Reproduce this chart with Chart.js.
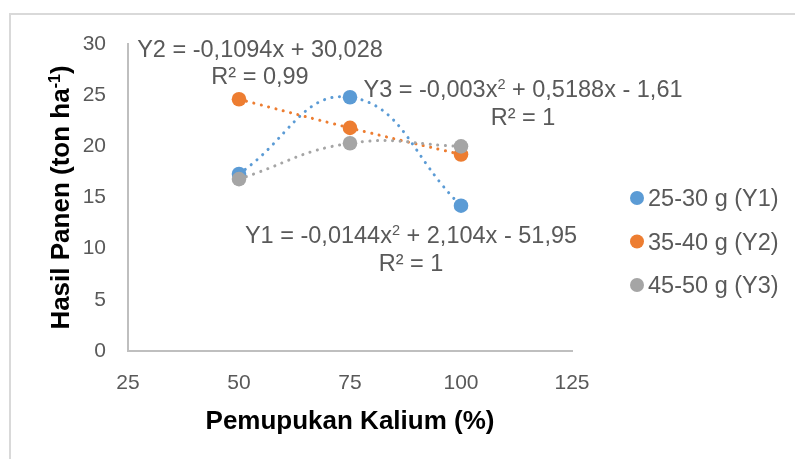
<!doctype html>
<html lang="en">
<head>
  <meta charset="utf-8">
  <title>Hasil Panen - Pemupukan Kalium</title>
  <script src="https://cdn.jsdelivr.net/npm/chart.js@4.4.1/dist/chart.umd.min.js"></script>
  <style>
    html, body { margin: 0; padding: 0; background: #fff; }
    #wrap { width: 795px; height: 459px; }
  </style>
</head>
<body>
<div id="wrap"><canvas id="myChart" width="795" height="459"></canvas></div>
<script>
// data
var kalium = [50, 75, 100];
var seriesNames = ["25-30 g (Y1)", "35-40 g (Y2)", "45-50 g (Y3)"];
var y1 = [17.3, 24.8, 14.2];
var y2 = [24.6, 21.8, 19.2];
var y3 = [16.8, 20.3, 20.0];
var xTicks = [25, 50, 75, 100, 125];
var yTicks = [0, 5, 10, 15, 20, 25, 30];
var colors = ["#5B9BD5", "#ED7D31", "#A5A5A5"];

// trendline labels ( [text, superscript?] pieces )
var eqY2 = [["Y2 = -0,1094x + 30,028"]];
var eqY3 = [["Y3 = -0,003x"], ["2", true], [" + 0,5188x - 1,61"]];
var eqY1 = [["Y1 = -0,0144x"], ["2", true], [" + 2,104x - 51,95"]];
var r2Y2 = "R² = 0,99";
var r2Y3 = "R² = 1";
var r2Y1 = "R² = 1";

var fam = '"Liberation Sans", Arial, sans-serif';
var textGray = "#595959";

function pts(ys) {
  return kalium.map(function (x, i) { return { x: x, y: ys[i] }; });
}

function drawParts(ctx, parts, x, y, size, weight, align) {
  var w = 0;
  parts.forEach(function (p) {
    ctx.font = weight + " " + (p[1] ? size * 0.62 : size) + "px " + fam;
    w += ctx.measureText(p[0]).width;
  });
  var cx = align === "center" ? x - w / 2 : x;
  ctx.textAlign = "left";
  ctx.textBaseline = "alphabetic";
  parts.forEach(function (p) {
    var s = p[1] ? size * 0.62 : size;
    ctx.font = weight + " " + s + "px " + fam;
    ctx.fillText(p[0], cx, p[1] ? y - size * 0.36 : y);
    cx += ctx.measureText(p[0]).width;
  });
}

var extras = {
  id: "extras",
  beforeDraw: function (chart) {
    var ctx = chart.ctx;
    ctx.save();
    ctx.fillStyle = "#fff";
    ctx.fillRect(0, 0, chart.width, chart.height);
    ctx.strokeStyle = "#D9D9D9";
    ctx.lineWidth = 2;
    ctx.strokeRect(10, 14, 900, 600);
    ctx.restore();
  },
  afterDraw: function (chart) {
    var ctx = chart.ctx;
    ctx.save();
    // trendline equations
    ctx.fillStyle = textGray;
    drawParts(ctx, eqY2, 260, 57, 23.5, "normal", "center");
    drawParts(ctx, [[r2Y2]], 260, 84, 23.5, "normal", "center");
    drawParts(ctx, eqY3, 523, 97, 23.5, "normal", "center");
    drawParts(ctx, [[r2Y3]], 523, 125, 23.5, "normal", "center");
    drawParts(ctx, eqY1, 411, 243, 23.5, "normal", "center");
    drawParts(ctx, [[r2Y1]], 411, 271, 23.5, "normal", "center");

    // legend
    var rowsY = [198, 241.5, 285];
    chart.data.datasets.forEach(function (ds, i) {
      ctx.fillStyle = ds.backgroundColor;
      ctx.beginPath();
      ctx.arc(637, rowsY[i], 7, 0, Math.PI * 2);
      ctx.fill();
      ctx.fillStyle = textGray;
      drawParts(ctx, [[ds.label]], 648, rowsY[i] + 8.3, 23.5, "normal", "left");
    });

    // y axis title
    ctx.translate(69, 197.5);
    ctx.rotate(-Math.PI / 2);
    ctx.fillStyle = "#000";
    drawParts(ctx, [["Hasil Panen (ton ha"], ["-1", true], [")"]], 0, 0, 26, "bold", "center");
    ctx.restore();
  }
};

var ctx = document.getElementById("myChart").getContext("2d");
var data = {
  datasets: [y1, y2, y3].map(function (ys, i) {
    return {
      label: seriesNames[i],
      data: pts(ys),
      showLine: true,
      tension: 0.45,
      borderColor: colors[i],
      backgroundColor: colors[i],
      borderWidth: 3,
      borderDash: [0.1, 7.5],
      borderCapStyle: "round",
      pointRadius: 7.3,
      pointHoverRadius: 7.3,
      pointBorderWidth: 0,
      order: 2 - i
    };
  })
};

var chart = new Chart(ctx, {
  type: "scatter",
  data: data,
  options: {
    responsive: false,
    animation: false,
    events: [],
    layout: { padding: { top: 44, right: 223, left: 0, bottom: 0 } },
    plugins: { legend: { display: false }, tooltip: { enabled: false } },
    scales: {
      x: {
        type: "linear",
        min: xTicks[0],
        max: xTicks[xTicks.length - 1],
        afterBuildTicks: function (s) { s.ticks = xTicks.map(function (v) { return { value: v }; }); },
        afterFit: function (s) { s.height = 108; },
        grid: { display: false, drawTicks: false },
        border: { display: true, color: "#BFBFBF", width: 2 },
        ticks: { padding: 20, color: textGray, font: { family: fam, size: 21 } },
        title: {
          display: true,
          text: "Pemupukan Kalium (%)",
          color: "#000",
          font: { family: fam, size: 26, weight: "bold" },
          padding: { top: 0, bottom: 22 }
        }
      },
      y: {
        type: "linear",
        min: yTicks[0],
        max: yTicks[yTicks.length - 1],
        afterBuildTicks: function (s) { s.ticks = yTicks.map(function (v) { return { value: v }; }); },
        afterFit: function (s) { s.width = 128; },
        grid: { display: false, drawTicks: false },
        border: { display: true, color: "#BFBFBF", width: 2 },
        ticks: { padding: 22, color: textGray, font: { family: fam, size: 21 } }
      }
    }
  },
  plugins: [extras]
});
</script>
</body>
</html>
